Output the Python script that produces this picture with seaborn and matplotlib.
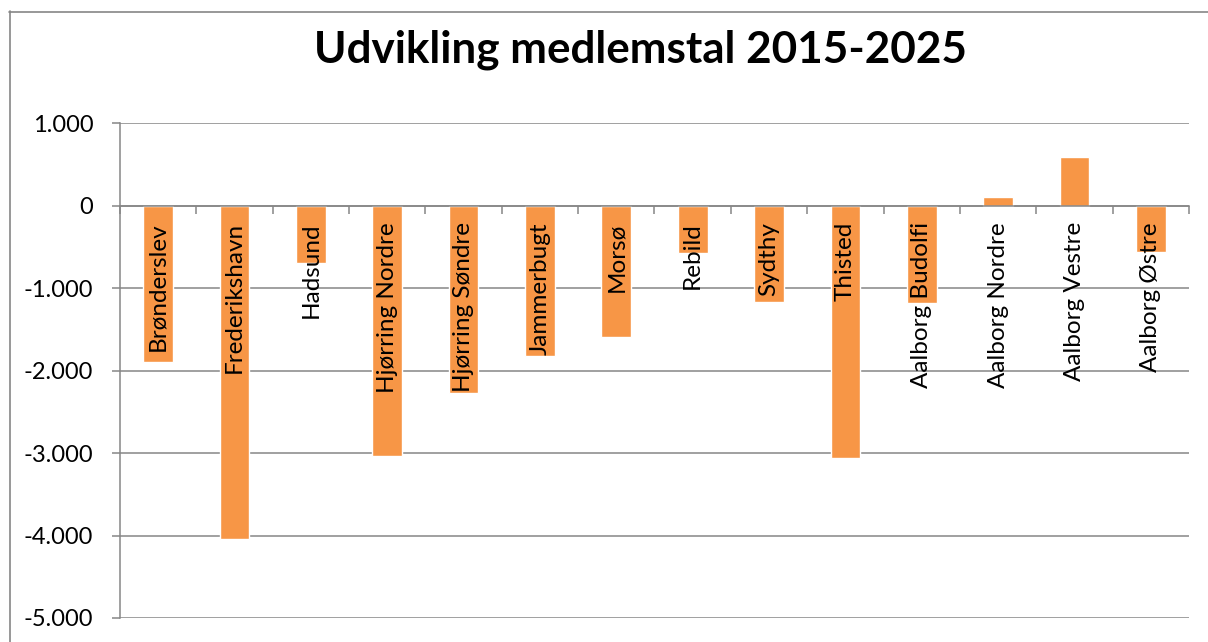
import matplotlib
matplotlib.use("Agg")
import matplotlib.pyplot as plt
from matplotlib.lines import Line2D
from matplotlib.ticker import FuncFormatter, FixedLocator
import seaborn as sns

categories = ["Brønderslev", "Frederikshavn", "Hadsund", "Hjørring Nordre",
              "Hjørring Søndre", "Jammerbugt", "Morsø", "Rebild", "Sydthy",
              "Thisted", "Aalborg Budolfi", "Aalborg Nordre", "Aalborg Vestre",
              "Aalborg Østre"]
values = [-1900, -4040, -700, -3035, -2275, -1830, -1590, -580, -1165,
          -3065, -1185, 100, 585, -560]
yticks = [1000, 0, -1000, -2000, -3000, -4000, -5000]
title = "Udvikling medlemstal 2015-2025"

sns.set_theme(style="white")
plt.rcParams["font.family"] = ["Lato", "DejaVu Sans"]

W, H = 1208, 642
fig = plt.figure(figsize=(W / 100, H / 100), dpi=100)
fig.patch.set_facecolor("white")
ax = fig.add_axes([120 / W, 1 - 618 / H, (1189 - 120) / W, (618 - 123) / H])

sns.barplot(x=categories, y=values, color="#F79646", saturation=1,
            width=0.39, ax=ax, zorder=3)

grid_c = "#868686"
ax.set_xlim(-0.5, len(categories) - 0.5)
ax.set_ylim(min(yticks), max(yticks))
ax.yaxis.set_major_locator(FixedLocator(yticks))
ax.yaxis.set_major_formatter(FuncFormatter(lambda v, p: f"{int(v):,}".replace(",", ".")))
ax.yaxis.grid(True, color=grid_c, lw=1.1, zorder=1)
ax.xaxis.grid(False)

for s in ["top", "right"]:
    ax.spines[s].set_visible(False)
ax.spines["left"].set_color(grid_c)
ax.spines["left"].set_linewidth(1.1)
ax.spines["bottom"].set_position(("data", 0))
ax.spines["bottom"].set_color(grid_c)
ax.spines["bottom"].set_linewidth(1.1)
ax.spines["bottom"].set_zorder(4)

ax.tick_params(axis="y", which="major", direction="out", length=5.8, width=1.1,
               color=grid_c, labelsize=17, pad=13.5, labelcolor="black", left=True)
ax.set_xticks(range(len(categories)))
ax.set_xticklabels([])
ax.set_xticks([i - 0.5 for i in range(len(categories) + 1)], minor=True)
ax.tick_params(axis="x", which="major", length=0)
ax.tick_params(axis="x", which="minor", direction="out", length=5.5, width=1.1,
               color=grid_c, bottom=True)
ax.set_xlabel("")
ax.set_ylabel("")

# category labels next to the zero axis, drawn over the bars
for i, name in enumerate(categories):
    ax.annotate(name, xy=(i, 0), xycoords="data", xytext=(0, -12),
                textcoords="offset points", rotation=90, ha="center", va="top",
                fontsize=17.5, color="black", zorder=6)

fig.text(640 / W, 1 - 63 / H, title, ha="center", va="baseline",
         fontsize=31.7, fontweight="bold", color="black")

fig.add_artist(Line2D([9 / W, 1], [1 - 11.5 / H, 1 - 11.5 / H], color=grid_c, lw=1.2))
fig.add_artist(Line2D([9.5 / W, 9.5 / W], [0, 1 - 11 / H], color=grid_c, lw=1.2))

fig.savefig("out.png", dpi=100)
